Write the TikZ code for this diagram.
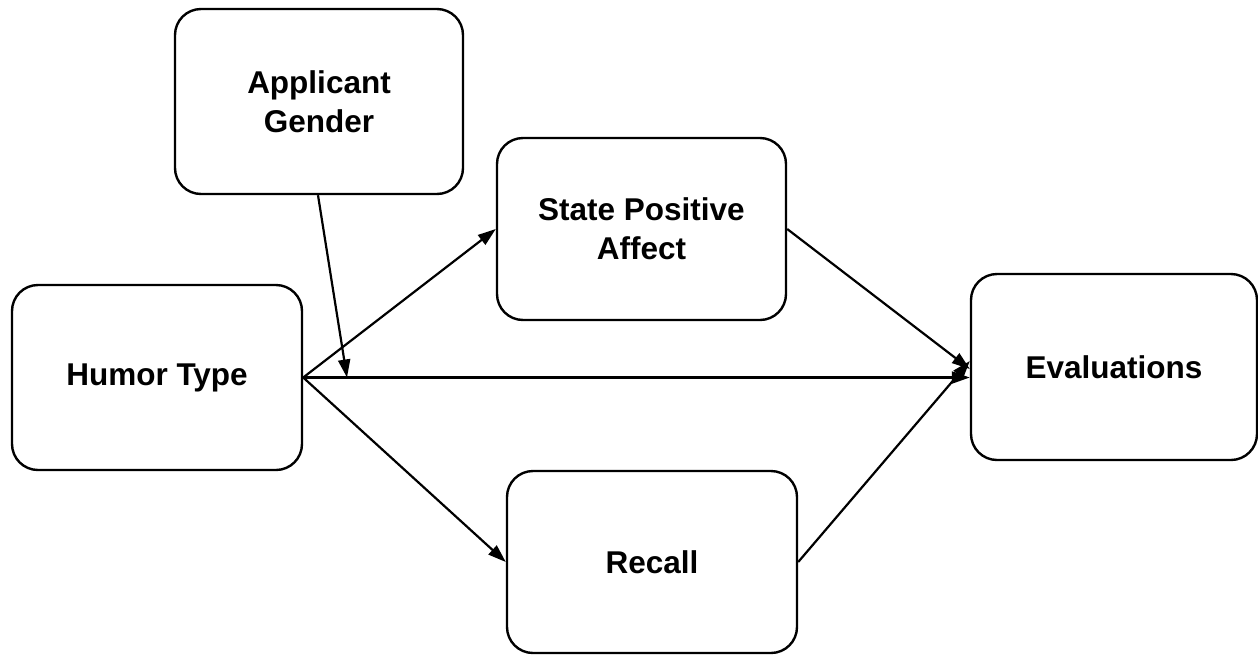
\documentclass[tikz,border=0pt]{standalone}
\usepackage{fontspec}
\setmainfont{Liberation Sans}
\usetikzlibrary{arrows.meta}
\begin{document}
\begin{tikzpicture}[x=1pt,y=-1pt,
  box/.style={draw, line width=2.4pt, rounded corners=26pt, align=center,
    font=\fontsize{31.5}{39}\selectfont\bfseries, inner sep=0pt},
  arr/.style={line width=2.2pt, -{Triangle[length=18pt,width=12pt]}}]
\useasboundingbox (0,0) rectangle (1258,654);
\node[box, minimum width=288pt, minimum height=185pt] (ag) at (319,101.5) {Applicant\\Gender};
\node[box, minimum width=289pt, minimum height=182pt] (spa) at (641.5,229) {State Positive\\Affect};
\node[box, minimum width=290pt, minimum height=185pt] (ht) at (157,377.5) {Humor Type};
\node[box, minimum width=286pt, minimum height=186pt] (ev) at (1114,367) {Evaluations};
\node[box, minimum width=290pt, minimum height=182pt] (rc) at (652,562) {Recall};
\coordinate (m) at (347,377.5);
\coordinate (evin) at (ev.west |- ht.east);
\draw[arr] (ht.east) -- (spa.west);
\draw[arr] (ht.east) -- (evin);
\draw[arr] (ht.east) -- (rc.west);
\draw[arr] (spa.east) -- ([yshift=-2pt]ev.west);
\draw[arr] (rc.east) -- ([yshift=6pt]ev.west);
\draw[arr] ([xshift=-1pt]ag.south) -- (m);
\end{tikzpicture}
\end{document}
